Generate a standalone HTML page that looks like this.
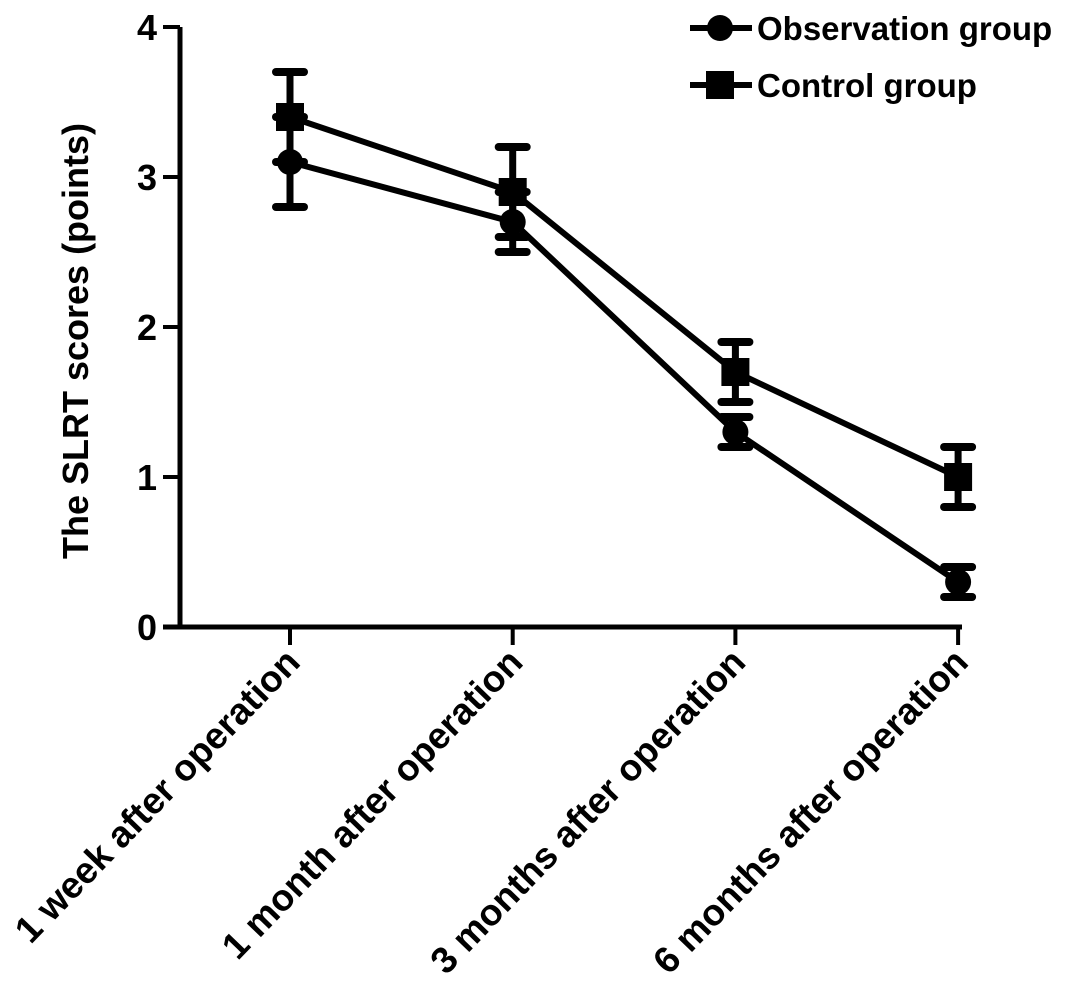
<!DOCTYPE html>
<html><head><meta charset="utf-8"><style>
body{margin:0;background:#fff}
svg{display:block;font-family:"Liberation Sans",Arial,sans-serif;font-weight:bold}
</style></head><body>
<svg id="c" width="1087" height="990"></svg>
<script>
const categories=["1 week after operation","1 month after operation","3 months after operation","6 months after operation"];
const obsValues=[3.1,2.7,1.3,0.3];
const obsErr=[0.3,0.2,0.1,0.1];
const ctlValues=[3.4,2.9,1.7,1.0];
const ctlErr=[0.3,0.3,0.2,0.2];
const yTicks=[0,1,2,3,4];
const NS="http://www.w3.org/2000/svg";
const svg=document.getElementById('c');
function mk(t,a,p){const e=document.createElementNS(NS,t);for(const k in a)e.setAttribute(k,a[k]);(p||svg).appendChild(e);return e;}
const y0=627,yPer=150,x0=180;
const ys=v=>y0-v*yPer;
const xs=i=>290+i*222.7;
const axes=mk('g',{});


const ya=mk('line',{x1:x0,y1:ys(4),x2:x0,y2:y0,stroke:'#000','stroke-width':5},axes);


const xa=mk('line',{x1:163,y1:y0,x2:962,y2:y0,stroke:'#000','stroke-width':5},axes);


yTicks.forEach(v=>{
 mk('line',{x1:163,y1:ys(v),x2:x0,y2:ys(v),stroke:'#000','stroke-width':4},axes);
 const t=mk('text',{x:157,y:ys(v)+13,'text-anchor':'end','font-size':36},axes);t.textContent=v;
 
 
});
categories.forEach((c,i)=>{
 mk('line',{x1:xs(i),y1:y0,x2:xs(i),y2:645,stroke:'#000','stroke-width':4},axes);
 const t=mk('text',{x:0,y:0,'text-anchor':'end','font-size':37,transform:`translate(${xs(i)+12},${664}) rotate(-46)`},axes);t.textContent=c;
 
 
});
const yt=mk('text',{x:0,y:0,'text-anchor':'middle','font-size':36,transform:`translate(88,341) rotate(-90)`});
yt.textContent="The SLRT scores (points)";


function series(vals,errs,shape,name){
 const g=mk('g',{});
 
 
 mk('polyline',{points:vals.map((v,i)=>xs(i)+','+ys(v)).join(' '),fill:'none',stroke:'#000','stroke-width':6},g);
 vals.forEach((v,i)=>{
  const x=xs(i),e=errs[i];
  mk('line',{x1:x,y1:ys(v+e),x2:x,y2:ys(v-e),stroke:'#000','stroke-width':7},g);
  mk('line',{x1:x-14,y1:ys(v+e),x2:x+14,y2:ys(v+e),stroke:'#000','stroke-width':8,'stroke-linecap':'round'},g);
  mk('line',{x1:x-14,y1:ys(v-e),x2:x+14,y2:ys(v-e),stroke:'#000','stroke-width':8,'stroke-linecap':'round'},g);
  if(shape==='circle')mk('circle',{cx:x,cy:ys(v),r:13,fill:'#000'},g);
  else mk('rect',{x:x-14,y:ys(v)-14,width:28,height:28,fill:'#000'},g);
 });
}
series(ctlValues,ctlErr,'square','control-series');
series(obsValues,obsErr,'circle','observation-series');
function legend(y,shape,label,name){
 const g=mk('g',{});
 
 
 mk('line',{x1:690,y1:y,x2:752,y2:y,stroke:'#000','stroke-width':6},g);
 if(shape==='circle')mk('circle',{cx:720,cy:y,r:13,fill:'#000'},g);
 else mk('rect',{x:706,y:y-14,width:28,height:28,fill:'#000'},g);
 const t=mk('text',{x:757,y:y+12,'font-size':33},g);t.textContent=label;
}
legend(28,'circle','Observation group','legend-observation');
legend(85,'square','Control group','legend-control');
</script>
</body></html>
